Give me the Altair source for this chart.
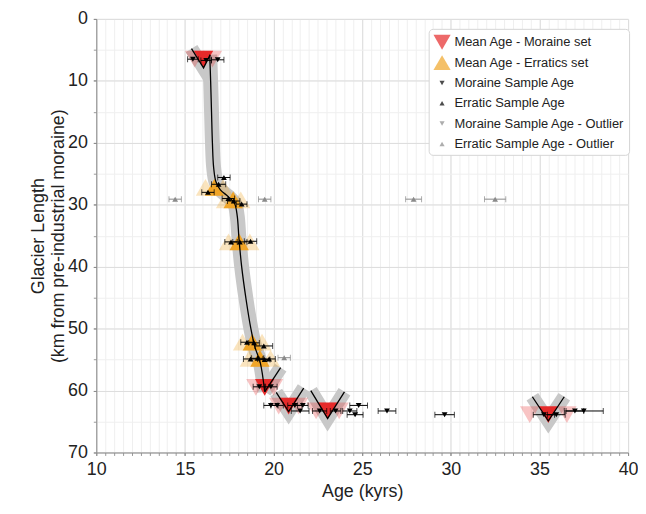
import altair as alt
import pandas as pd

# ---------------- data ----------------
series_names = ["Mean Age - Moraine set", "Mean Age - Erratics set", "Moraine Sample Age",
                "Erratic Sample Age", "Moraine Sample Age - Outlier", "Erratic Sample Age - Outlier"]
series_colors = ["#e62a2a", "#f0a528", "#000000", "#000000", "#8a8a8a", "#8a8a8a"]
# small triangles as custom unit paths (same symbol size as the big ones, drawn ~0.3x)
SMALL_DOWN = "M0,0.259L-0.299,-0.259L0.299,-0.259Z"
SMALL_UP = "M0,-0.259L-0.299,0.259L0.299,0.259Z"
series_shapes = ["triangle-down", "triangle-up", SMALL_DOWN, SMALL_UP, SMALL_DOWN, SMALL_UP]

moraine_mean_age = [16.05, 19.5, 20.85, 23.05, 35.5]
moraine_mean_len = [6.5, 59.5, 62.5, 63.3, 63.9]
moraine_mean_unc = [0.5, 0.5, 0.56, 0.65, 1.05]

erratic_mean_age = [16.66, 17.72, 18.06, 18.8, 19.23]
erratic_mean_len = [27.2, 29.2, 36.0, 52.2, 54.8]
erratic_mean_unc = [0.5, 0.43, 0.6, 0.55, 0.6]

moraine_sample_age = [15.45, 16.2, 16.85, 19.2, 19.85, 19.85, 20.2, 21.2, 21.65, 21.5, 22.6, 23.5,
                      24.3, 24.6, 24.8, 26.4, 29.65, 35.25, 35.95, 37.0, 37.5]
moraine_sample_len = [6.5, 6.7, 6.6, 59.4, 59.4, 62.4, 62.4, 62.4, 62.4, 63.3, 63.3, 63.3,
                      63.3, 63.9, 62.4, 63.3, 63.9, 63.9, 63.9, 63.3, 63.3]
moraine_sample_err = [0.3, 0.3, 0.35, 0.35, 0.35, 0.4, 0.35, 0.4, 0.3, 0.5, 0.4, 0.3,
                      0.4, 0.45, 0.5, 0.5, 0.55, 0.6, 0.5, 0.5, 1.1]

erratic_sample_age = [16.3, 16.9, 17.2, 17.45, 17.75, 18.2, 17.6, 18.1, 18.7, 18.5, 18.9, 19.45,
                      18.7, 19.1, 19.5, 19.75]
erratic_sample_len = [28.0, 26.7, 25.6, 29.0, 29.4, 29.9, 36.0, 36.0, 35.9, 52.2, 52.3, 52.8,
                      54.9, 54.8, 55.0, 54.9]
erratic_sample_err = [0.35, 0.4, 0.35, 0.35, 0.35, 0.3, 0.35, 0.4, 0.35, 0.35, 0.3, 0.5,
                      0.4, 0.35, 0.3, 0.35]

erratic_outlier_age = [14.45, 19.5, 27.9, 32.5, 20.6]
erratic_outlier_len = [29.1, 29.1, 29.1, 29.1, 54.7]
erratic_outlier_err = [0.35, 0.35, 0.45, 0.6, 0.35]

moraine_outlier_age = []
moraine_outlier_len = []
moraine_outlier_err = []

# smoothed glacier-length trend
trend_age = [16.40, 16.45, 16.50, 16.55, 16.62, 16.75, 17.0, 17.45, 17.8, 17.95, 18.05, 18.2,
             18.45, 18.72, 18.95, 19.25, 19.5]
trend_len = [5.8, 10, 15, 20, 24, 26.3, 27.6, 28.7, 29.8, 31.8, 35.5, 40,
             45.3, 50, 53, 55.5, 60.2]

# V-shaped moraine constructs
v_group = [0, 0, 0, 1, 1, 2, 2, 2, 3, 3, 3, 4, 4, 4]
v_age = [15.37, 16.05, 16.42, 19.5, 20.4, 20.15, 20.85, 21.7, 22.1, 23.05, 24.0, 34.6, 35.5, 36.4]
v_len = [4.8, 7.9, 5.8, 60.2, 56.3, 60.3, 63.4, 59.6, 60.0, 64.5, 60.2, 61.0, 64.9, 61.0]

x_major = [10, 15, 20, 25, 30, 35, 40]
y_major = [0, 10, 20, 30, 40, 50, 60, 70]
x_minor = [10 + 0.5 * i for i in range(61)]
y_minor = [5 * i for i in range(15)]

FONT = "Liberation Sans"

# ---------------- frames ----------------
trend_df = pd.DataFrame({"age": trend_age, "len": trend_len, "idx": range(len(trend_age))})
v_df = pd.DataFrame({"age": v_age, "len": v_len, "g": v_group, "idx": range(len(v_age))})

means_df = pd.concat([
    pd.DataFrame({"age": moraine_mean_age, "len": moraine_mean_len, "unc": moraine_mean_unc,
                  "series": series_names[0]}),
    pd.DataFrame({"age": erratic_mean_age, "len": erratic_mean_len, "unc": erratic_mean_unc,
                  "series": series_names[1]}),
], ignore_index=True)

ghost_rows = []
for a, l, u in zip(moraine_mean_age, moraine_mean_len, moraine_mean_unc):
    ghost_rows += [{"age": a - u, "len": l, "kind": "m"}, {"age": a + u, "len": l, "kind": "m"}]
for a, l, u in zip(erratic_mean_age, erratic_mean_len, erratic_mean_unc):
    ghost_rows += [{"age": a - u, "len": l, "kind": "e"}, {"age": a + u, "len": l, "kind": "e"}]
ghost_df = pd.DataFrame(ghost_rows)

samples_df = pd.concat([
    pd.DataFrame({"age": moraine_sample_age, "len": moraine_sample_len, "err": moraine_sample_err,
                  "series": series_names[2], "ebc": "#000000"}),
    pd.DataFrame({"age": erratic_sample_age, "len": erratic_sample_len, "err": erratic_sample_err,
                  "series": series_names[3], "ebc": "#000000"}),
    pd.DataFrame({"age": moraine_outlier_age, "len": moraine_outlier_len, "err": moraine_outlier_err,
                  "series": series_names[4], "ebc": "#8a8a8a"}),
    pd.DataFrame({"age": erratic_outlier_age, "len": erratic_outlier_len, "err": erratic_outlier_err,
                  "series": series_names[5], "ebc": "#8a8a8a"}),
], ignore_index=True)
samples_df["lo"] = samples_df["age"] - samples_df["err"]
samples_df["hi"] = samples_df["age"] + samples_df["err"]
caps_df = pd.concat([
    samples_df[["lo", "len", "ebc"]].rename(columns={"lo": "cap"}),
    samples_df[["hi", "len", "ebc"]].rename(columns={"hi": "cap"}),
], ignore_index=True)

# ---------------- scales / axes ----------------
xs = alt.Scale(domain=[10, 40], nice=False, zero=False)
ys = alt.Scale(domain=[0, 70], reverse=True, nice=False, zero=False)

x_minor_axis = alt.Axis(values=x_minor, labels=False, title=None, domain=False, grid=True,
                        gridColor="#efefef", gridWidth=1, ticks=True, tickSize=3,
                        tickColor="#9a9a9a", orient="bottom")
y_minor_axis = alt.Axis(values=y_minor, labels=False, title=None, domain=False, grid=True,
                        gridColor="#efefef", gridWidth=1, ticks=True, tickSize=3,
                        tickColor="#9a9a9a", orient="left")
x_major_axis = alt.Axis(values=x_major, title="Age (kyrs)", grid=True, gridColor="#dddddd",
                        tickSize=3, tickColor="#8c8c8c", domainColor="#8c8c8c",
                        labelFontSize=18, labelFont=FONT, labelColor="#222222", labelPadding=5,
                        labelFlush=False,
                        titleFontSize=18, titleFont=FONT, titleColor="#222222",
                        titleFontWeight="normal", titlePadding=4, orient="bottom")
y_major_axis = alt.Axis(values=y_major,
                        title=["Glacier Length", "(km from pre-industrial moraine)"],
                        grid=True, gridColor="#dddddd",
                        tickSize=3, tickColor="#8c8c8c", domainColor="#8c8c8c",
                        labelFontSize=18, labelFont=FONT, labelColor="#222222", labelPadding=6,
                        labelFlush=False,
                        titleFontSize=18, titleFont=FONT, titleColor="#222222",
                        titleFontWeight="normal", titlePadding=0, titleLineHeight=20,
                        orient="left")


def X(field, axis=None):
    return alt.X(field, type="quantitative", scale=xs, axis=axis)


def Y(field, axis=None):
    return alt.Y(field, type="quantitative", scale=ys, axis=axis)


legend = alt.Legend(title=None, orient="none", legendX=335, legendY=10,
                    fillColor="white", strokeColor="#d4d4d4", cornerRadius=4, padding=4,
                    labelFont=FONT, labelFontSize=13, labelColor="#222222", labelLimit=400,
                    labelOffset=3, rowPadding=3.5, gridAlign="all", symbolOpacity=1,
                    symbolSize=300)

series_color = alt.Color("series:N", scale=alt.Scale(domain=series_names, range=series_colors),
                         legend=legend)
series_shape = alt.Shape("series:N", scale=alt.Scale(domain=series_names, range=series_shapes),
                         legend=legend)

# ---------------- layers ----------------
band_curve = alt.Chart(trend_df).mark_line(
    color="#c8c8c8", strokeWidth=15, interpolate="catmull-rom", strokeCap="butt"
).encode(x=X("age", x_minor_axis), y=Y("len", y_minor_axis), order="idx:Q")

band_v = alt.Chart(v_df).mark_line(
    color="#c8c8c8", strokeWidth=14, strokeCap="butt", strokeJoin="miter"
).encode(x=X("age", x_major_axis), y=Y("len", y_major_axis), detail="g:N", order="idx:Q")

ghost_m = alt.Chart(ghost_df[ghost_df.kind == "m"]).mark_point(
    filled=True, shape="triangle-down", size=380, color="#e62a2a", opacity=0.28
).encode(x=X("age"), y=Y("len"))

ghost_e = alt.Chart(ghost_df[ghost_df.kind == "e"]).mark_point(
    filled=True, shape="triangle-up", size=380, color="#f0a528", opacity=0.3
).encode(x=X("age"), y=Y("len"))

means = alt.Chart(means_df).mark_point(filled=True, opacity=1, size=380).encode(
    x=X("age"), y=Y("len"), color=series_color, shape=series_shape)

line_curve = alt.Chart(trend_df).mark_line(
    color="black", strokeWidth=1.3, interpolate="catmull-rom"
).encode(x=X("age"), y=Y("len"), order="idx:Q")

line_v = alt.Chart(v_df).mark_line(color="black", strokeWidth=1.3).encode(
    x=X("age"), y=Y("len"), detail="g:N", order="idx:Q")

err_rules = alt.Chart(samples_df).mark_rule(strokeWidth=1).encode(
    x=X("lo"), x2="hi", y=Y("len"), color=alt.Color("ebc:N", scale=None))

err_caps = alt.Chart(caps_df).mark_tick(orient="vertical", size=6, thickness=1).encode(
    x=X("cap"), y=Y("len"), color=alt.Color("ebc:N", scale=None))

samples = alt.Chart(samples_df).mark_point(filled=True, opacity=1, size=380).encode(
    x=X("age"), y=Y("len"), color=series_color, shape=series_shape)

chart = alt.layer(
    band_curve, band_v, ghost_m, ghost_e, means, line_curve, line_v, err_rules, err_caps, samples
).resolve_axis(x="independent", y="independent").properties(
    width=536, height=437,
    padding={"left": 89, "top": 9, "right": 10, "bottom": 60},
    autosize=alt.AutoSizeParams(type="none"),
).configure_view(stroke="#8c8c8c", strokeWidth=1).configure(background="white")

chart.save("out.html", embed_options={"renderer": "svg", "actions": False})
